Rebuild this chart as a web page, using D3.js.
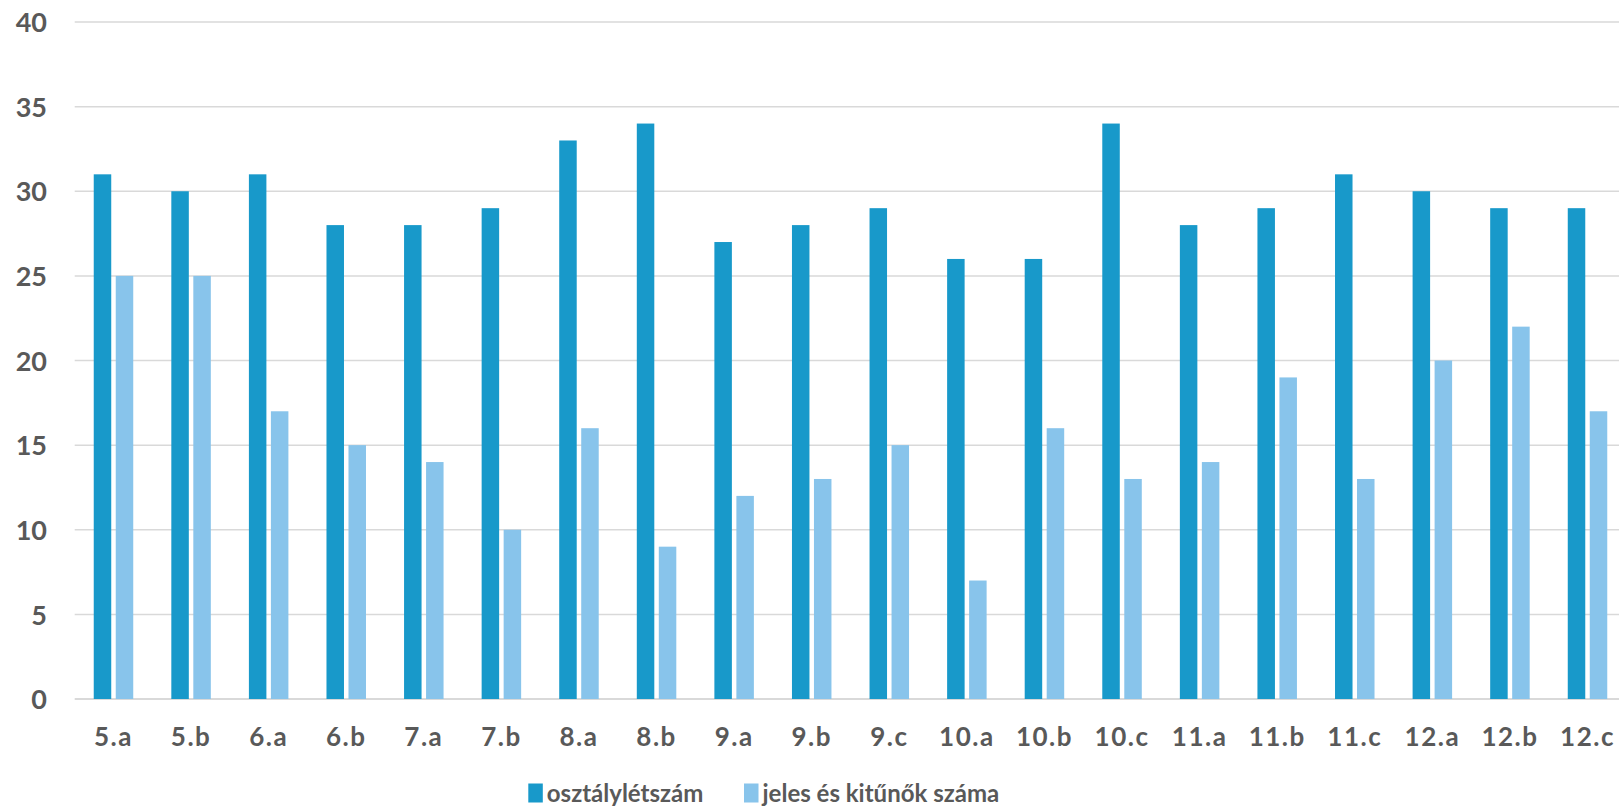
<!DOCTYPE html>
<html><head><meta charset="utf-8">
<script src="https://cdn.jsdelivr.net/npm/d3@7"></script>
<style>
html,body{margin:0;padding:0;background:#fff;overflow:hidden}
text{font-family:"Lato","Open Sans",sans-serif;font-weight:bold;fill:#595959}
</style></head><body>
<svg id="c" width="1619" height="810"></svg>
<script>
const categories = ["5.a","5.b","6.a","6.b","7.a","7.b","8.a","8.b","9.a","9.b","9.c","10.a","10.b","10.c","11.a","11.b","11.c","12.a","12.b","12.c"];
const osztalyletszam = [31,30,31,28,28,29,33,34,27,28,29,26,26,34,28,29,31,30,29,29];
const jelesKitunok = [25,25,17,15,14,10,16,9,12,13,15,7,16,13,14,19,13,20,22,17];
const seriesNames = ["osztálylétszám","jeles és kitűnők száma"];
const seriesColors = ["#1899CA","#88C4EB"];
const yTicks = [0,5,10,15,20,25,30,35,40];

const svg = d3.select("#c");
const pLeft = 74.7, pRight = 1626.3, pTop = 22, pBottom = 699;
const x = d3.scaleBand().domain(categories).range([pLeft, pRight]).paddingInner(0).paddingOuter(0);
const y = d3.scaleLinear().domain([0,40]).range([pBottom, pTop]);
const barW = 17.5, gap = 4.5;
const groupW = barW*2 + gap;

// grid
svg.append("g").selectAll("line").data(yTicks).join("line")
  .attr("x1", pLeft).attr("x2", 1619)
  .attr("y1", d => y(d)).attr("y2", d => y(d))
  .attr("stroke", "#d9d9d9").attr("stroke-width", d => d === 0 ? 2 : 1.5);

// y labels
const yAxis = d3.axisLeft(y).tickValues(yTicks).tickSize(0).tickPadding(0);
const ya = svg.append("g").attr("transform", `translate(47,0)`).call(yAxis);
ya.select(".domain").remove();
ya.selectAll("text").attr("font-size", 27).style("font-family", '"Lato","Open Sans",sans-serif').style("font-weight","bold").attr("fill","#595959").attr("dy","0.36em");

// bars
const series = [osztalyletszam, jelesKitunok];
series.forEach((vals, si) => {
  svg.append("g").selectAll("rect").data(vals).join("rect")
    .attr("x", (d,i) => x(categories[i]) + (x.bandwidth()-groupW)/2 + si*(barW+gap))
    .attr("width", barW)
    .attr("y", d => y(d))
    .attr("height", d => y(0) - y(d))
    .attr("fill", seriesColors[si]);
});

// x labels
const xAxis = d3.axisBottom(x).tickSize(0).tickPadding(0);
const xa = svg.append("g").attr("transform", `translate(0,${pBottom})`).call(xAxis);
xa.select(".domain").remove();
xa.selectAll("text").attr("font-size", 26).style("font-family", '"Lato","Open Sans",sans-serif').style("font-weight","bold").style("letter-spacing","1.5px").attr("fill","#595959").attr("dy", null).attr("y", 47);

// legend
const legendX = [528.3, 744];
const lg = svg.append("g");
seriesNames.forEach((name, i) => {
  lg.append("rect").attr("x", legendX[i]).attr("y", 783.5).attr("width", 14.5).attr("height", 19).attr("fill", seriesColors[i]);
  lg.append("text").attr("x", legendX[i] + 18.5).attr("y", 802).attr("font-size", 24).text(name);
});
</script>
</body></html>
